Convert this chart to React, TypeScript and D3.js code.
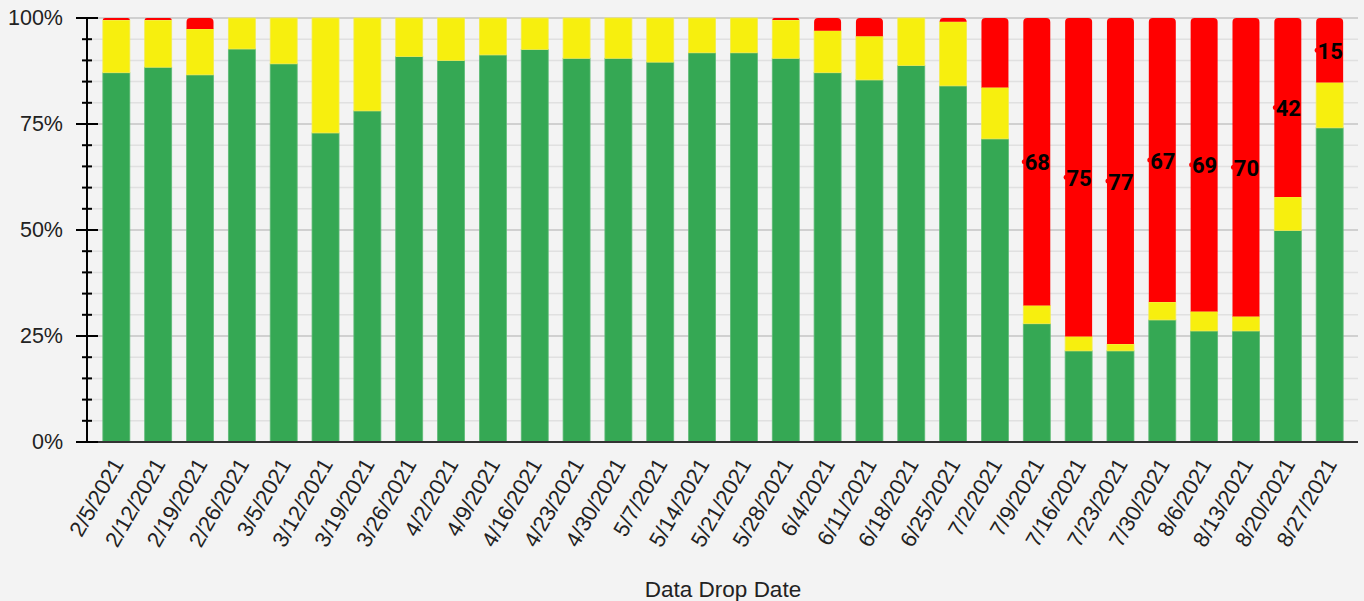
import { useEffect, useRef } from 'react'
import * as d3 from 'd3'

const dates = [
  '2/5/2021', '2/12/2021', '2/19/2021', '2/26/2021', '3/5/2021', '3/12/2021', '3/19/2021', '3/26/2021',
  '4/2/2021', '4/9/2021', '4/16/2021', '4/23/2021', '4/30/2021', '5/7/2021', '5/14/2021', '5/21/2021',
  '5/28/2021', '6/4/2021', '6/11/2021', '6/18/2021', '6/25/2021', '7/2/2021', '7/9/2021', '7/16/2021',
  '7/23/2021', '7/30/2021', '8/6/2021', '8/13/2021', '8/20/2021', '8/27/2021',
]
const greenPct = [
  87.1, 88.4, 86.6, 92.7, 89.2, 72.9, 78.1, 90.9, 90.0, 91.3, 92.6, 90.5, 90.5, 89.6, 91.8,
  91.8, 90.5, 87.1, 85.4, 88.8, 84.0, 71.5, 27.9, 21.5, 21.5, 28.8, 26.2, 26.2, 49.9, 74.1,
]
const yellowPct = [
  12.4, 11.1, 10.8, 7.3, 10.8, 27.1, 21.9, 9.1, 10.0, 8.7, 7.4, 9.5, 9.5, 10.4, 8.2,
  8.2, 9.0, 9.9, 10.3, 11.2, 15.1, 12.1, 4.3, 3.4, 1.6, 4.2, 4.6, 3.4, 7.9, 10.7,
]
const redPct = [
  0.5, 0.5, 2.6, 0, 0, 0, 0, 0, 0, 0, 0, 0, 0, 0, 0,
  0, 0.5, 3.0, 4.3, 0, 0.9, 16.4, 67.8, 75.1, 76.9, 67.0, 69.2, 70.4, 42.2, 15.2,
]
const redLabels: (number | null)[] = [
  null, null, null, null, null, null, null, null, null, null, null, null, null, null, null,
  null, null, null, null, null, null, null, 68, 75, 77, 67, 69, 70, 42, 15,
]
const yTicks = [0, 25, 50, 75, 100]

const W = 1364
const H = 601
const MARGIN = { top: 18, right: 6, bottom: 159, left: 88 }
const COLORS = { green: '#35a854', yellow: '#f7ef0e', red: '#ff0000' }
const FONT = 'Arial, "Liberation Sans", sans-serif'

type Row = { date: string; green: number; yellow: number; red: number }

function roundedTop(x: number, y: number, w: number, h: number, r: number) {
  const rr = Math.max(0, Math.min(r, h, w / 2))
  return `M${x},${y + h}L${x},${y + rr}Q${x},${y} ${x + rr},${y}L${x + w - rr},${y}Q${x + w},${y} ${x + w},${y + rr}L${x + w},${y + h}Z`
}

export default function App() {
  const svgRef = useRef<SVGSVGElement>(null)

  useEffect(() => {
    document.body.style.margin = '0'
    const svg = d3.select(svgRef.current!)
    svg.selectAll('*').remove()

    const rows: Row[] = dates.map((d, i) => ({ date: d, green: greenPct[i], yellow: yellowPct[i], red: redPct[i] }))

    const x = d3.scaleBand<string>()
      .domain(dates)
      .range([MARGIN.left, W - MARGIN.right])
      .paddingInner(0.355)
      .paddingOuter(0.355)
    const y = d3.scaleLinear([0, 100], [H - MARGIN.bottom, MARGIN.top])

    svg.append('rect').attr('width', W).attr('height', H).attr('fill', '#f3f3f3')

    // ── Grid ──────────────────────────────────────────────────────────────────
    const minor = d3.range(5, 100, 5).filter(v => v % 25 !== 0)
    svg.append('g').selectAll('line').data(minor).join('line')
      .attr('x1', MARGIN.left).attr('x2', W - MARGIN.right)
      .attr('y1', d => y(d)).attr('y2', d => y(d))
      .attr('stroke', '#e0e0e0').attr('stroke-width', 1.5)
    svg.append('g').selectAll('line').data(yTicks.filter(v => v > 0)).join('line')
      .attr('x1', MARGIN.left).attr('x2', W - MARGIN.right)
      .attr('y1', d => y(d)).attr('y2', d => y(d))
      .attr('stroke', '#c4c4c4').attr('stroke-width', 1.5)

    // ── Bars ──────────────────────────────────────────────────────────────────
    const stack = d3.stack<Row>().keys(['green', 'yellow', 'red'])(rows)
    const bw = x.bandwidth()
    stack.forEach(layer => {
      const key = layer.key as keyof typeof COLORS
      const g = svg.append('g')
      layer.forEach(s => {
        const d = s.data as Row
        const h = y(s[0]) - y(s[1])
        if (h <= 0) return
        const bx = x(d.date)!
        if (key === 'red') {
          g.append('path')
            .attr('d', roundedTop(bx, y(s[1]), bw, h, 4))
            .attr('fill', COLORS.red)
        } else {
          g.append('rect')
            .attr('x', bx).attr('y', y(s[1])).attr('width', bw).attr('height', h)
            .attr('fill', COLORS[key])
            .attr('stroke', key === 'green' ? '#5fbb77' : '#f3ec52').attr('stroke-width', 0.8)
        }
      })
    })

    // ── Red labels ────────────────────────────────────────────────────────────
    const redLayer = stack[2]
    redLayer.forEach((s, i) => {
      const lbl = redLabels[i]
      if (lbl == null) return
      const cx = x(dates[i])! + bw / 2
      const cy = y((s[0] + s[1]) / 2)
      svg.append('circle').attr('cx', cx - 12.5).attr('cy', cy).attr('r', 2.5).attr('fill', COLORS.red)
      svg.append('text')
        .attr('x', cx + 0.5).attr('y', cy + 1)
        .attr('text-anchor', 'middle').attr('dominant-baseline', 'central')
        .attr('font-family', 'Roboto, Arial, sans-serif').attr('font-weight', 700).attr('font-size', 22)
        .attr('fill', '#000')
        .text(lbl)
    })

    // ── Axes ──────────────────────────────────────────────────────────────────
    const axX = MARGIN.left - 1
    svg.append('line')
      .attr('x1', axX).attr('x2', W - MARGIN.right)
      .attr('y1', y(0)).attr('y2', y(0))
      .attr('stroke', '#333').attr('stroke-width', 2)
    svg.append('line')
      .attr('x1', axX).attr('x2', axX)
      .attr('y1', y(100)).attr('y2', y(0))
      .attr('stroke', '#000').attr('stroke-width', 2)
    svg.append('g').selectAll('line').data(minor).join('line')
      .attr('x1', axX - 5).attr('x2', axX + 5)
      .attr('y1', d => y(d)).attr('y2', d => y(d))
      .attr('stroke', '#000').attr('stroke-width', 2)
    svg.append('g').selectAll('line').data(yTicks).join('line')
      .attr('x1', axX - 11).attr('x2', axX + 11)
      .attr('y1', d => y(d)).attr('y2', d => y(d))
      .attr('stroke', '#000').attr('stroke-width', 2)
    svg.append('g').selectAll('text').data(yTicks).join('text')
      .attr('x', 63).attr('y', d => y(d))
      .attr('text-anchor', 'end').attr('dominant-baseline', 'central')
      .attr('font-family', FONT).attr('font-size', 21.5).attr('fill', '#222')
      .text(d => `${d}%`)

    svg.append('g').selectAll('text').data(dates).join('text')
      .attr('transform', d => `translate(${x(d)! + bw / 2 + 8},${y(0) + 22}) rotate(-60)`)
      .attr('text-anchor', 'end')
      .attr('font-family', FONT).attr('font-size', 22).attr('fill', '#222')
      .text(d => d)

    svg.append('text')
      .attr('x', (MARGIN.left + W - MARGIN.right) / 2).attr('y', 597)
      .attr('text-anchor', 'middle')
      .attr('font-family', FONT).attr('font-size', 22.5).attr('fill', '#222')
      .text('Data Drop Date')
  }, [])

  return <svg ref={svgRef} width={W} height={H} style={{ display: 'block' }} />
}
